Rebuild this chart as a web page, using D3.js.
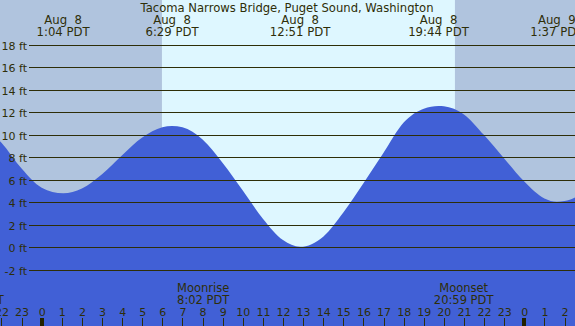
<!DOCTYPE html>
<html><head><meta charset="utf-8">
<script src="https://cdn.jsdelivr.net/npm/d3@7"></script>
<style>
html,body{margin:0;padding:0;overflow:hidden;background:#b0c4de;}
text{font-family:"DejaVu Sans",sans-serif;fill:#2e2e08;white-space:pre;}
</style></head>
<body><svg id="c" width="575" height="326"></svg>
<script>
// ---- data (hours from Aug 8 00:00 PDT) ----
const title = "Tacoma Narrows Bridge, Puget Sound, Washington";
const tideHours = [-3, -2, -1, 0, 1.07, 2, 3, 4, 5, 6, 6.48, 7, 8, 9, 10, 11, 12, 12.85, 14, 15, 16, 17, 18, 19, 19.73, 20, 21, 22, 23, 24, 25, 25.62, 26, 27];
const tideFeet  = [10.97, 9.3, 7.0, 5.3, 4.8, 5.23, 6.5, 8.19, 9.76, 10.68, 10.8, 10.67, 9.58, 7.5, 5.05, 2.55, 0.65, 0.05, 0.95, 3.1, 5.7, 8.42, 11.1, 12.33, 12.57, 12.54, 11.82, 9.98, 7.9, 5.85, 4.35, 4.06, 4.12, 4.88];
const extremeHours = [1.067, 6.483, 12.85, 19.733, 25.617];
const extremeDates = ["Aug  8", "Aug  8", "Aug  8", "Aug  8", "Aug  9"];
const extremeTimes = ["1:04 PDT", "6:29 PDT", "12:51 PDT", "19:44 PDT", "1:37 PDT"];
const sunrise = 5.98, sunset = 20.55;
const moonHours = [-3.37, 8.033, 20.983];
const moonNames = ["Moonset", "Moonrise", "Moonset"];
const moonTimes = ["20:38 PDT", "8:02 PDT", "20:59 PDT"];
const feetTicks = [-2, 0, 2, 4, 6, 8, 10, 12, 14, 16, 18];
const hourTicks = d3.range(-2, 27);

// ---- scales ----
const W = 575, H = 326;
const x = d3.scaleLinear().domain([0, 24]).range([41.7, 524.3]);
const y = d3.scaleLinear().domain([-7, 22]).range([H, 0]);
const svg = d3.select("#c");

// backgrounds
svg.append("rect").attr("x", 0).attr("y", 0).attr("width", W).attr("height", H).attr("fill", "#b0c4de");
svg.append("rect").attr("x", x(sunrise)).attr("y", 0)
  .attr("width", x(sunset) - x(sunrise)).attr("height", H).attr("fill", "#def7ff");

// tide area
const pts = tideHours.map((h, i) => [h, tideFeet[i]]);
const area = d3.area().x(d => x(d[0])).y0(H).y1(d => y(d[1])).curve(d3.curveMonotoneX);
svg.append("path").datum(pts).attr("d", area).attr("fill", "#4160d6");

// gridlines + y labels
feetTicks.forEach(f => {
  const yy = Math.round(y(f)) + 0.5;
  svg.append("line").attr("x1", 29).attr("x2", W).attr("y1", yy).attr("y2", yy)
    .attr("stroke", "#2e2e08").attr("stroke-width", 1.2);
  svg.append("text").attr("x", 27).attr("y", yy + 4).attr("text-anchor", "end")
    .attr("font-size", "11px").text(f + " ft");
});

// title & extremes
svg.append("text").attr("x", 287).attr("y", 12).attr("text-anchor", "middle")
  .attr("font-size", "11.6px").text(title);
extremeHours.forEach((h, i) => {
  svg.append("text").attr("x", x(h)).attr("y", 24).attr("text-anchor", "middle")
    .attr("font-size", "11.7px").text(extremeDates[i]);
  svg.append("text").attr("x", x(h)).attr("y", 36).attr("text-anchor", "middle")
    .attr("font-size", "11.7px").text(extremeTimes[i]);
});

// hour axis
const axis = d3.axisBottom(x).tickValues(hourTicks).tickSize(0)
  .tickFormat(h => ((h % 24) + 24) % 24);
const ax = svg.append("g").attr("transform", "translate(0,305)").call(axis);
ax.select(".domain").remove();
ax.selectAll("text").attr("font-size", "11px").attr("font-family", "DejaVu Sans").attr("fill", "#2e2e08").attr("dy", 0).attr("y", 11);
hourTicks.forEach(h => {
  const mid = (((h % 24) + 24) % 24) === 0;
  const xx = Math.round(x(h)) + (mid ? 0 : 0.5);
  svg.append("line").attr("x1", xx).attr("x2", xx).attr("y1", 318).attr("y2", H)
    .attr("stroke", mid ? "#222200" : "#2e2e08").attr("stroke-width", mid ? 4 : 1);
});

// moon labels
moonHours.forEach((h, i) => {
  svg.append("text").attr("x", x(h)).attr("y", 292).attr("text-anchor", "middle")
    .attr("font-size", "11.5px").text(moonNames[i]);
  svg.append("text").attr("x", x(h)).attr("y", 304).attr("text-anchor", "middle")
    .attr("font-size", "11.5px").text(moonTimes[i]);
});
</script></body></html>
